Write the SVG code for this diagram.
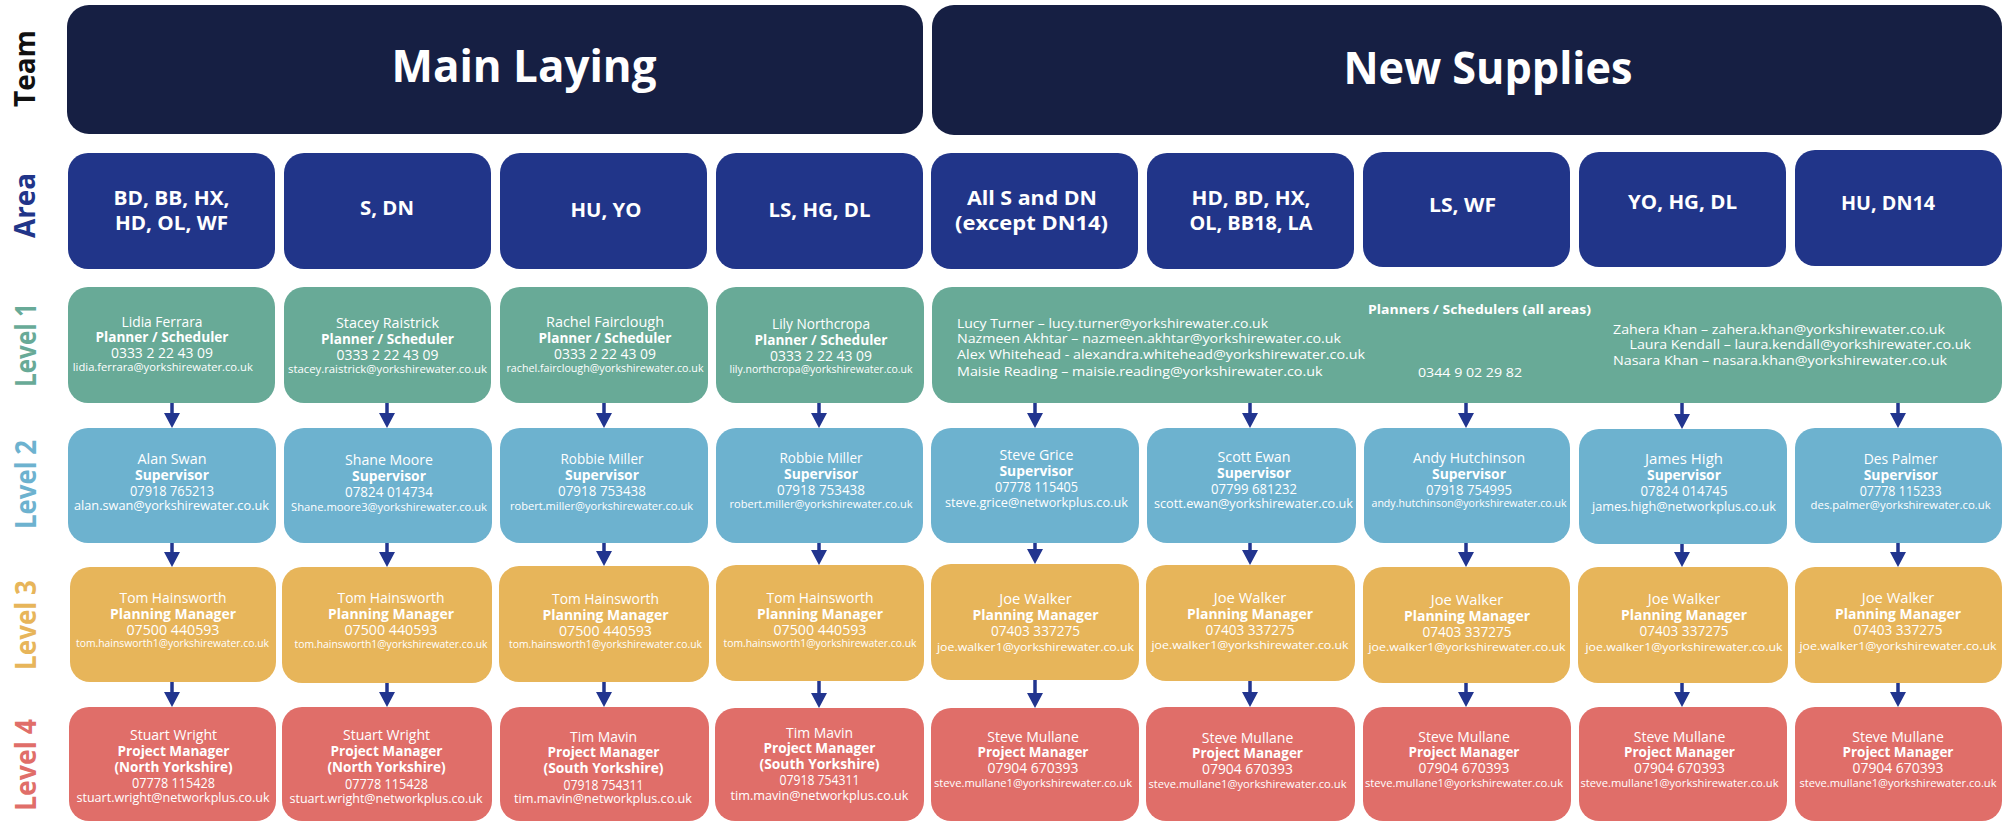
<svg xmlns="http://www.w3.org/2000/svg" width="2008" height="822" viewBox="0 0 2008 822">
<defs>
<style>
text{font-family:"Open Sans","Liberation Sans",sans-serif;fill:#fff}
.team{fill:#161f43}
.area{fill:#213589}
.l1{fill:#68aa97}
.l2{fill:#6db2cf}
.l3{fill:#e7b55a}
.l4{fill:#e06e69}
.hd{font-size:45px;font-weight:700;text-anchor:middle}
.ar{font-size:19px;font-weight:700;text-anchor:middle}
.side{font-size:29px;font-weight:700;text-anchor:middle}
.sT{fill:#111}
.sA{fill:#213589}
.s1{fill:#68aa97}
.s2{fill:#6db2cf}
.s3{fill:#e7b55a}
.s4{fill:#e06e69}
.n{font-size:14px;text-anchor:middle}
.r{font-size:14px;font-weight:700;text-anchor:middle}
.e{text-anchor:middle}
.lst{font-size:13px}
.lh{font-size:12.5px;font-weight:700;text-anchor:middle}
.conn line{stroke:#22358f;stroke-width:3.5;marker-end:url(#ah)}
</style>
<marker id="ah" markerUnits="userSpaceOnUse" markerWidth="15" markerHeight="16" viewBox="0 0 15 16" refX="5" refY="8" orient="auto"><path d="M0,0 L15,8 L0,16 z" fill="#22358f"/></marker>
</defs>
<rect width="2008" height="822" fill="#fff"/>

<!-- side labels -->
<g id="side-labels">
<text class="side sT" transform="translate(35,68.5) rotate(-90)" textLength="77" lengthAdjust="spacingAndGlyphs">Team</text>
<text class="side sA" transform="translate(35,205.5) rotate(-90)" textLength="65" lengthAdjust="spacingAndGlyphs">Area</text>
<text class="side s1" transform="translate(36,345) rotate(-90)" textLength="84" lengthAdjust="spacingAndGlyphs">Level 1</text>
<text class="side s2" transform="translate(36,484.5) rotate(-90)" textLength="89" lengthAdjust="spacingAndGlyphs">Level 2</text>
<text class="side s3" transform="translate(36,625) rotate(-90)" textLength="90" lengthAdjust="spacingAndGlyphs">Level 3</text>
<text class="side s4" transform="translate(36,765) rotate(-90)" textLength="92" lengthAdjust="spacingAndGlyphs">Level 4</text>
</g>

<!-- teams -->
<g id="team-main-laying"><rect class="team" x="67" y="5" width="856" height="129" rx="22"/><text class="hd" x="524" y="82" textLength="265" lengthAdjust="spacingAndGlyphs">Main Laying</text></g>
<g id="team-new-supplies"><rect class="team" x="932" y="5" width="1070" height="130" rx="22"/><text class="hd" x="1488" y="84" textLength="289" lengthAdjust="spacingAndGlyphs">New Supplies</text></g>

<!-- areas -->
<g id="area-1"><rect class="area" x="68" y="153" width="207" height="116" rx="20"/><text class="ar" x="171.5" y="205" textLength="116" lengthAdjust="spacingAndGlyphs">BD, BB, HX,</text><text class="ar" x="171.5" y="230" textLength="113" lengthAdjust="spacingAndGlyphs">HD, OL, WF</text></g>
<g id="area-2"><rect class="area" x="284" y="153" width="207" height="116" rx="20"/><text class="ar" x="387" y="215" textLength="54" lengthAdjust="spacingAndGlyphs">S, DN</text></g>
<g id="area-3"><rect class="area" x="500" y="153" width="207" height="116" rx="20"/><text class="ar" x="606" y="216.5" textLength="71" lengthAdjust="spacingAndGlyphs">HU, YO</text></g>
<g id="area-4"><rect class="area" x="716" y="153" width="207" height="116" rx="20"/><text class="ar" x="819.5" y="216.5" textLength="102" lengthAdjust="spacingAndGlyphs">LS, HG, DL</text></g>
<g id="area-5"><rect class="area" x="931" y="153" width="207" height="116" rx="20"/><text class="ar" x="1032" y="205" textLength="130" lengthAdjust="spacingAndGlyphs">All S and DN</text><text class="ar" x="1031.5" y="230" textLength="153" lengthAdjust="spacingAndGlyphs">(except DN14)</text></g>
<g id="area-6"><rect class="area" x="1147" y="153" width="207" height="116" rx="20"/><text class="ar" x="1251" y="205" textLength="119" lengthAdjust="spacingAndGlyphs">HD, BD, HX,</text><text class="ar" x="1251" y="230" textLength="123" lengthAdjust="spacingAndGlyphs">OL, BB18, LA</text></g>
<g id="area-7"><rect class="area" x="1363" y="152" width="207" height="115" rx="20"/><text class="ar" x="1462.5" y="211.5" textLength="67" lengthAdjust="spacingAndGlyphs">LS, WF</text></g>
<g id="area-8"><rect class="area" x="1579" y="152" width="207" height="115" rx="20"/><text class="ar" x="1682.5" y="208.5" textLength="109" lengthAdjust="spacingAndGlyphs">YO, HG, DL</text></g>
<g id="area-9"><rect class="area" x="1795" y="150" width="207" height="116" rx="20"/><text class="ar" x="1888" y="210" textLength="94" lengthAdjust="spacingAndGlyphs">HU, DN14</text></g>

<!-- level 1 -->
<g id="l1-1"><rect class="l1" x="68" y="287" width="207" height="116" rx="20"/>
<text class="n" x="162" y="326.7" textLength="81" lengthAdjust="spacingAndGlyphs">Lidia Ferrara</text>
<text class="r" x="162" y="342.3" textLength="133" lengthAdjust="spacingAndGlyphs">Planner / Scheduler</text>
<text class="n" x="162" y="358" textLength="102" lengthAdjust="spacingAndGlyphs">0333 2 22 43 09</text>
<text class="e" x="162.8" y="370.7" font-size="10" textLength="180" lengthAdjust="spacingAndGlyphs">lidia.ferrara@yorkshirewater.co.uk</text></g>
<g id="l1-2"><rect class="l1" x="284" y="287" width="207" height="116" rx="20"/>
<text class="n" x="387.5" y="328.3" textLength="103" lengthAdjust="spacingAndGlyphs">Stacey Raistrick</text>
<text class="r" x="387.5" y="344" textLength="133" lengthAdjust="spacingAndGlyphs">Planner / Scheduler</text>
<text class="n" x="387.5" y="360" textLength="102" lengthAdjust="spacingAndGlyphs">0333 2 22 43 09</text>
<text class="e" x="387.5" y="372.7" font-size="10" textLength="199" lengthAdjust="spacingAndGlyphs">stacey.raistrick@yorkshirewater.co.uk</text></g>
<g id="l1-3"><rect class="l1" x="500" y="287" width="208" height="116" rx="20"/>
<text class="n" x="605" y="327" textLength="118" lengthAdjust="spacingAndGlyphs">Rachel Fairclough</text>
<text class="r" x="605" y="343" textLength="133" lengthAdjust="spacingAndGlyphs">Planner / Scheduler</text>
<text class="n" x="605" y="359" textLength="102" lengthAdjust="spacingAndGlyphs">0333 2 22 43 09</text>
<text class="e" x="605" y="371.7" font-size="10" textLength="197" lengthAdjust="spacingAndGlyphs">rachel.fairclough@yorkshirewater.co.uk</text></g>
<g id="l1-4"><rect class="l1" x="716" y="287" width="208" height="116" rx="20"/>
<text class="n" x="821" y="329" textLength="98" lengthAdjust="spacingAndGlyphs">Lily Northcropa</text>
<text class="r" x="821" y="345" textLength="133" lengthAdjust="spacingAndGlyphs">Planner / Scheduler</text>
<text class="n" x="821" y="361" textLength="102" lengthAdjust="spacingAndGlyphs">0333 2 22 43 09</text>
<text class="e" x="821" y="373" font-size="10" textLength="183" lengthAdjust="spacingAndGlyphs">lily.northcropa@yorkshirewater.co.uk</text></g>
<g id="l1-new-supplies"><rect class="l1" x="932" y="287" width="1070" height="116" rx="20"/>
<text class="lh" x="1479.5" y="314" textLength="223" lengthAdjust="spacingAndGlyphs">Planners / Schedulers (all areas)</text>
<text class="lst" x="957" y="327.7" textLength="311" lengthAdjust="spacingAndGlyphs">Lucy Turner – lucy.turner@yorkshirewater.co.uk</text>
<text class="lst" x="957" y="343.3" textLength="384" lengthAdjust="spacingAndGlyphs">Nazmeen Akhtar – nazmeen.akhtar@yorkshirewater.co.uk</text>
<text class="lst" x="957" y="359.3" textLength="408" lengthAdjust="spacingAndGlyphs">Alex Whitehead - alexandra.whitehead@yorkshirewater.co.uk</text>
<text class="lst" x="957" y="375.7" textLength="365.5" lengthAdjust="spacingAndGlyphs">Maisie Reading – maisie.reading@yorkshirewater.co.uk</text>
<text class="lst" x="1418" y="376.7" textLength="104" lengthAdjust="spacingAndGlyphs">0344 9 02 29 82</text>
<text class="lst" x="1613" y="334" textLength="332" lengthAdjust="spacingAndGlyphs">Zahera Khan – zahera.khan@yorkshirewater.co.uk</text>
<text class="lst" x="1629.5" y="349.3" textLength="341.5" lengthAdjust="spacingAndGlyphs">Laura Kendall – laura.kendall@yorkshirewater.co.uk</text>
<text class="lst" x="1613" y="365" textLength="334" lengthAdjust="spacingAndGlyphs">Nasara Khan – nasara.khan@yorkshirewater.co.uk</text></g>

<!-- level 2 -->
<g id="l2-1"><rect class="l2" x="68" y="428" width="208" height="115" rx="20"/>
<text class="n" x="172" y="464.3" textLength="69" lengthAdjust="spacingAndGlyphs">Alan Swan</text>
<text class="r" x="172" y="480" textLength="74" lengthAdjust="spacingAndGlyphs">Supervisor</text>
<text class="n" x="172" y="495.7" textLength="84" lengthAdjust="spacingAndGlyphs">07918 765213</text>
<text class="e" x="171.5" y="510" font-size="12.3" textLength="195" lengthAdjust="spacingAndGlyphs">alan.swan@yorkshirewater.co.uk</text></g>
<g id="l2-2"><rect class="l2" x="284" y="428" width="208" height="115" rx="20"/>
<text class="n" x="389" y="465.3" textLength="88" lengthAdjust="spacingAndGlyphs">Shane Moore</text>
<text class="r" x="389" y="481" textLength="74" lengthAdjust="spacingAndGlyphs">Supervisor</text>
<text class="n" x="389" y="496.7" textLength="88" lengthAdjust="spacingAndGlyphs">07824 014734</text>
<text class="e" x="389" y="510.7" font-size="11.2" textLength="196" lengthAdjust="spacingAndGlyphs">Shane.moore3@yorkshirewater.co.uk</text></g>
<g id="l2-3"><rect class="l2" x="500" y="428" width="208" height="115" rx="20"/>
<text class="n" x="602" y="464" textLength="83" lengthAdjust="spacingAndGlyphs">Robbie Miller</text>
<text class="r" x="602" y="480" textLength="74" lengthAdjust="spacingAndGlyphs">Supervisor</text>
<text class="n" x="602" y="496" textLength="88" lengthAdjust="spacingAndGlyphs">07918 753438</text>
<text class="e" x="601.5" y="510" font-size="10.2" textLength="183" lengthAdjust="spacingAndGlyphs">robert.miller@yorkshirewater.co.uk</text></g>
<g id="l2-4"><rect class="l2" x="716" y="428" width="207" height="115" rx="20"/>
<text class="n" x="821" y="463" textLength="83" lengthAdjust="spacingAndGlyphs">Robbie Miller</text>
<text class="r" x="821" y="479" textLength="74" lengthAdjust="spacingAndGlyphs">Supervisor</text>
<text class="n" x="821" y="495" textLength="88" lengthAdjust="spacingAndGlyphs">07918 753438</text>
<text class="e" x="821" y="508" font-size="10.2" textLength="183" lengthAdjust="spacingAndGlyphs">robert.miller@yorkshirewater.co.uk</text></g>
<g id="l2-5"><rect class="l2" x="931" y="428" width="208" height="115" rx="20"/>
<text class="n" x="1036.4" y="460" textLength="74" lengthAdjust="spacingAndGlyphs">Steve Grice</text>
<text class="r" x="1036.4" y="475.7" textLength="74" lengthAdjust="spacingAndGlyphs">Supervisor</text>
<text class="n" x="1036.4" y="491.7" textLength="83" lengthAdjust="spacingAndGlyphs">07778 115405</text>
<text class="e" x="1036.4" y="506.7" font-size="11.9" textLength="183" lengthAdjust="spacingAndGlyphs">steve.grice@networkplus.co.uk</text></g>
<g id="l2-6"><rect class="l2" x="1147" y="428" width="209" height="115" rx="20"/>
<text class="n" x="1254" y="462.3" textLength="73" lengthAdjust="spacingAndGlyphs">Scott Ewan</text>
<text class="r" x="1254" y="478" textLength="74" lengthAdjust="spacingAndGlyphs">Supervisor</text>
<text class="n" x="1254" y="494" textLength="86" lengthAdjust="spacingAndGlyphs">07799 681232</text>
<text class="e" x="1253.5" y="507.7" font-size="12.1" textLength="199" lengthAdjust="spacingAndGlyphs">scott.ewan@yorkshirewater.co.uk</text></g>
<g id="l2-7"><rect class="l2" x="1364" y="428" width="206" height="115" rx="20"/>
<text class="n" x="1469" y="463" textLength="112" lengthAdjust="spacingAndGlyphs">Andy Hutchinson</text>
<text class="r" x="1469" y="479" textLength="74" lengthAdjust="spacingAndGlyphs">Supervisor</text>
<text class="n" x="1469" y="495" textLength="86" lengthAdjust="spacingAndGlyphs">07918 754995</text>
<text class="e" x="1469" y="507" font-size="10.2" textLength="195" lengthAdjust="spacingAndGlyphs">andy.hutchinson@yorkshirewater.co.uk</text></g>
<g id="l2-8"><rect class="l2" x="1579" y="429" width="208" height="115" rx="20"/>
<text class="n" x="1684" y="464.3" textLength="78" lengthAdjust="spacingAndGlyphs">James High</text>
<text class="r" x="1684" y="480" textLength="74" lengthAdjust="spacingAndGlyphs">Supervisor</text>
<text class="n" x="1684" y="496" textLength="87" lengthAdjust="spacingAndGlyphs">07824 014745</text>
<text class="e" x="1684" y="511" font-size="12.4" textLength="184" lengthAdjust="spacingAndGlyphs">james.high@networkplus.co.uk</text></g>
<g id="l2-9"><rect class="l2" x="1795" y="428" width="207" height="115" rx="20"/>
<text class="n" x="1900.7" y="464" textLength="74" lengthAdjust="spacingAndGlyphs">Des Palmer</text>
<text class="r" x="1900.7" y="480" textLength="74" lengthAdjust="spacingAndGlyphs">Supervisor</text>
<text class="n" x="1900.7" y="496" textLength="82" lengthAdjust="spacingAndGlyphs">07778 115233</text>
<text class="e" x="1900.6" y="509" font-size="11" textLength="180" lengthAdjust="spacingAndGlyphs">des.palmer@yorkshirewater.co.uk</text></g>

<!-- level 3 -->
<g id="l3-1"><rect class="l3" x="70" y="567" width="206" height="115" rx="20"/>
<text class="n" x="173" y="603.3" textLength="107" lengthAdjust="spacingAndGlyphs">Tom Hainsworth</text>
<text class="r" x="173" y="619.3" textLength="126" lengthAdjust="spacingAndGlyphs">Planning Manager</text>
<text class="n" x="173" y="635" textLength="93" lengthAdjust="spacingAndGlyphs">07500 440593</text>
<text class="e" x="172.5" y="646.7" font-size="10.1" textLength="193" lengthAdjust="spacingAndGlyphs">tom.hainsworth1@yorkshirewater.co.uk</text></g>
<g id="l3-2"><rect class="l3" x="282" y="567" width="210" height="116" rx="20"/>
<text class="n" x="391" y="603.3" textLength="107" lengthAdjust="spacingAndGlyphs">Tom Hainsworth</text>
<text class="r" x="391" y="619.3" textLength="126" lengthAdjust="spacingAndGlyphs">Planning Manager</text>
<text class="n" x="391" y="635" textLength="93" lengthAdjust="spacingAndGlyphs">07500 440593</text>
<text class="e" x="391" y="647.7" font-size="10.1" textLength="193" lengthAdjust="spacingAndGlyphs">tom.hainsworth1@yorkshirewater.co.uk</text></g>
<g id="l3-3"><rect class="l3" x="499" y="566" width="210" height="116" rx="20"/>
<text class="n" x="605.5" y="604" textLength="107" lengthAdjust="spacingAndGlyphs">Tom Hainsworth</text>
<text class="r" x="605.5" y="620" textLength="126" lengthAdjust="spacingAndGlyphs">Planning Manager</text>
<text class="n" x="605.5" y="635.7" textLength="93" lengthAdjust="spacingAndGlyphs">07500 440593</text>
<text class="e" x="605.5" y="648.3" font-size="10.1" textLength="193" lengthAdjust="spacingAndGlyphs">tom.hainsworth1@yorkshirewater.co.uk</text></g>
<g id="l3-4"><rect class="l3" x="716" y="565" width="208" height="116" rx="20"/>
<text class="n" x="820" y="603" textLength="107" lengthAdjust="spacingAndGlyphs">Tom Hainsworth</text>
<text class="r" x="820" y="619" textLength="126" lengthAdjust="spacingAndGlyphs">Planning Manager</text>
<text class="n" x="820" y="635" textLength="93" lengthAdjust="spacingAndGlyphs">07500 440593</text>
<text class="e" x="820" y="647" font-size="10.1" textLength="193" lengthAdjust="spacingAndGlyphs">tom.hainsworth1@yorkshirewater.co.uk</text></g>
<g id="l3-5"><rect class="l3" x="931" y="564" width="208" height="116" rx="20"/>
<text class="n" x="1035.5" y="604" textLength="72.5" lengthAdjust="spacingAndGlyphs">Joe Walker</text>
<text class="r" x="1035.5" y="620" textLength="126" lengthAdjust="spacingAndGlyphs">Planning Manager</text>
<text class="n" x="1035.5" y="636" textLength="89" lengthAdjust="spacingAndGlyphs">07403 337275</text>
<text class="e" x="1035.5" y="650.7" font-size="11.6" textLength="197" lengthAdjust="spacingAndGlyphs">joe.walker1@yorkshirewater.co.uk</text></g>
<g id="l3-6"><rect class="l3" x="1146" y="565" width="209" height="116" rx="20"/>
<text class="n" x="1250" y="603.3" textLength="72.5" lengthAdjust="spacingAndGlyphs">Joe Walker</text>
<text class="r" x="1250" y="619" textLength="126" lengthAdjust="spacingAndGlyphs">Planning Manager</text>
<text class="n" x="1250" y="635" textLength="89" lengthAdjust="spacingAndGlyphs">07403 337275</text>
<text class="e" x="1250" y="649" font-size="11.6" textLength="197" lengthAdjust="spacingAndGlyphs">joe.walker1@yorkshirewater.co.uk</text></g>
<g id="l3-7"><rect class="l3" x="1363" y="567" width="207" height="116" rx="20"/>
<text class="n" x="1467" y="605" textLength="72.5" lengthAdjust="spacingAndGlyphs">Joe Walker</text>
<text class="r" x="1467" y="621" textLength="126" lengthAdjust="spacingAndGlyphs">Planning Manager</text>
<text class="n" x="1467" y="637" textLength="89" lengthAdjust="spacingAndGlyphs">07403 337275</text>
<text class="e" x="1467" y="651" font-size="11.6" textLength="197" lengthAdjust="spacingAndGlyphs">joe.walker1@yorkshirewater.co.uk</text></g>
<g id="l3-8"><rect class="l3" x="1578" y="567" width="210" height="116" rx="20"/>
<text class="n" x="1684" y="604" textLength="72.5" lengthAdjust="spacingAndGlyphs">Joe Walker</text>
<text class="r" x="1684" y="620" textLength="126" lengthAdjust="spacingAndGlyphs">Planning Manager</text>
<text class="n" x="1684" y="636" textLength="89" lengthAdjust="spacingAndGlyphs">07403 337275</text>
<text class="e" x="1684" y="651" font-size="11.6" textLength="197" lengthAdjust="spacingAndGlyphs">joe.walker1@yorkshirewater.co.uk</text></g>
<g id="l3-9"><rect class="l3" x="1795" y="567" width="207" height="116" rx="20"/>
<text class="n" x="1898" y="603" textLength="72.5" lengthAdjust="spacingAndGlyphs">Joe Walker</text>
<text class="r" x="1898" y="619" textLength="126" lengthAdjust="spacingAndGlyphs">Planning Manager</text>
<text class="n" x="1898" y="635" textLength="89" lengthAdjust="spacingAndGlyphs">07403 337275</text>
<text class="e" x="1898" y="650" font-size="11.6" textLength="197" lengthAdjust="spacingAndGlyphs">joe.walker1@yorkshirewater.co.uk</text></g>

<!-- level 4 -->
<g id="l4-1"><rect class="l4" x="69" y="707" width="207" height="114" rx="20"/>
<text class="n" x="173.5" y="740" textLength="87" lengthAdjust="spacingAndGlyphs">Stuart Wright</text>
<text class="r" x="173.5" y="756" textLength="112" lengthAdjust="spacingAndGlyphs">Project Manager</text>
<text class="r" x="173.5" y="771.7" textLength="118" lengthAdjust="spacingAndGlyphs">(North Yorkshire)</text>
<text class="n" x="173.5" y="787.7" textLength="83" lengthAdjust="spacingAndGlyphs">07778 115428</text>
<text class="e" x="173" y="801.7" font-size="11.7" textLength="193" lengthAdjust="spacingAndGlyphs">stuart.wright@networkplus.co.uk</text></g>
<g id="l4-2"><rect class="l4" x="282" y="707" width="210" height="114" rx="20"/>
<text class="n" x="386.5" y="740" textLength="87" lengthAdjust="spacingAndGlyphs">Stuart Wright</text>
<text class="r" x="386.5" y="756" textLength="112" lengthAdjust="spacingAndGlyphs">Project Manager</text>
<text class="r" x="386.5" y="772" textLength="118" lengthAdjust="spacingAndGlyphs">(North Yorkshire)</text>
<text class="n" x="386.5" y="788.7" textLength="83" lengthAdjust="spacingAndGlyphs">07778 115428</text>
<text class="e" x="386" y="802.7" font-size="11.7" textLength="193" lengthAdjust="spacingAndGlyphs">stuart.wright@networkplus.co.uk</text></g>
<g id="l4-3"><rect class="l4" x="500" y="707" width="209" height="114" rx="20"/>
<text class="n" x="603.5" y="741.7" textLength="67" lengthAdjust="spacingAndGlyphs">Tim Mavin</text>
<text class="r" x="603.5" y="757.3" textLength="112" lengthAdjust="spacingAndGlyphs">Project Manager</text>
<text class="r" x="603.5" y="773.3" textLength="120" lengthAdjust="spacingAndGlyphs">(South Yorkshire)</text>
<text class="n" x="603.5" y="790" textLength="80" lengthAdjust="spacingAndGlyphs">07918 754311</text>
<text class="e" x="603" y="803.3" font-size="12.4" textLength="178" lengthAdjust="spacingAndGlyphs">tim.mavin@networkplus.co.uk</text></g>
<g id="l4-4"><rect class="l4" x="715" y="708" width="209" height="113" rx="20"/>
<text class="n" x="819.5" y="737.7" textLength="67" lengthAdjust="spacingAndGlyphs">Tim Mavin</text>
<text class="r" x="819.5" y="753" textLength="112" lengthAdjust="spacingAndGlyphs">Project Manager</text>
<text class="r" x="819.5" y="769" textLength="120" lengthAdjust="spacingAndGlyphs">(South Yorkshire)</text>
<text class="n" x="819.5" y="785" textLength="80" lengthAdjust="spacingAndGlyphs">07918 754311</text>
<text class="e" x="819.5" y="800" font-size="12.4" textLength="178" lengthAdjust="spacingAndGlyphs">tim.mavin@networkplus.co.uk</text></g>
<g id="l4-5"><rect class="l4" x="931" y="708" width="208" height="113" rx="20"/>
<text class="n" x="1033" y="741.7" textLength="91.5" lengthAdjust="spacingAndGlyphs">Steve Mullane</text>
<text class="r" x="1033" y="757.3" textLength="111" lengthAdjust="spacingAndGlyphs">Project Manager</text>
<text class="n" x="1033" y="773.3" textLength="91" lengthAdjust="spacingAndGlyphs">07904 670393</text>
<text class="e" x="1033" y="787.3" font-size="10.7" textLength="198" lengthAdjust="spacingAndGlyphs">steve.mullane1@yorkshirewater.co.uk</text></g>
<g id="l4-6"><rect class="l4" x="1146" y="707" width="209" height="114" rx="20"/>
<text class="n" x="1247.5" y="742.7" textLength="91.5" lengthAdjust="spacingAndGlyphs">Steve Mullane</text>
<text class="r" x="1247.5" y="758" textLength="111" lengthAdjust="spacingAndGlyphs">Project Manager</text>
<text class="n" x="1247.5" y="774" textLength="91" lengthAdjust="spacingAndGlyphs">07904 670393</text>
<text class="e" x="1247.5" y="788.3" font-size="10.7" textLength="198" lengthAdjust="spacingAndGlyphs">steve.mullane1@yorkshirewater.co.uk</text></g>
<g id="l4-7"><rect class="l4" x="1363" y="707" width="208" height="114" rx="20"/>
<text class="n" x="1464" y="741.7" textLength="91.5" lengthAdjust="spacingAndGlyphs">Steve Mullane</text>
<text class="r" x="1464" y="757.3" textLength="111" lengthAdjust="spacingAndGlyphs">Project Manager</text>
<text class="n" x="1464" y="773" textLength="91" lengthAdjust="spacingAndGlyphs">07904 670393</text>
<text class="e" x="1464" y="787.3" font-size="10.7" textLength="198" lengthAdjust="spacingAndGlyphs">steve.mullane1@yorkshirewater.co.uk</text></g>
<g id="l4-8"><rect class="l4" x="1579" y="707" width="208" height="114" rx="20"/>
<text class="n" x="1679.5" y="741.7" textLength="91.5" lengthAdjust="spacingAndGlyphs">Steve Mullane</text>
<text class="r" x="1679.5" y="757.3" textLength="111" lengthAdjust="spacingAndGlyphs">Project Manager</text>
<text class="n" x="1679.5" y="773" textLength="91" lengthAdjust="spacingAndGlyphs">07904 670393</text>
<text class="e" x="1679.5" y="787.3" font-size="10.7" textLength="198" lengthAdjust="spacingAndGlyphs">steve.mullane1@yorkshirewater.co.uk</text></g>
<g id="l4-9"><rect class="l4" x="1795" y="707" width="207" height="114" rx="20"/>
<text class="n" x="1898" y="741.7" textLength="91.5" lengthAdjust="spacingAndGlyphs">Steve Mullane</text>
<text class="r" x="1898" y="757.3" textLength="111" lengthAdjust="spacingAndGlyphs">Project Manager</text>
<text class="n" x="1898" y="773" textLength="91" lengthAdjust="spacingAndGlyphs">07904 670393</text>
<text class="e" x="1898" y="787.3" font-size="10.7" textLength="197" lengthAdjust="spacingAndGlyphs">steve.mullane1@yorkshirewater.co.uk</text></g>

<!-- connectors -->
<g id="connectors" class="conn">
<line x1="172" y1="403" x2="172" y2="418"/><line x1="172" y1="543" x2="172" y2="557"/><line x1="172" y1="682" x2="172" y2="697"/>
<line x1="387" y1="403" x2="387" y2="418"/><line x1="387" y1="543" x2="387" y2="557"/><line x1="387" y1="683" x2="387" y2="697"/>
<line x1="604" y1="403" x2="604" y2="418"/><line x1="604" y1="543" x2="604" y2="556"/><line x1="604" y1="682" x2="604" y2="697"/>
<line x1="819" y1="403" x2="819" y2="418"/><line x1="819" y1="543" x2="819" y2="555"/><line x1="819" y1="681" x2="819" y2="698"/>
<line x1="1035" y1="403" x2="1035" y2="418"/><line x1="1035" y1="543" x2="1035" y2="554"/><line x1="1035" y1="680" x2="1035" y2="698"/>
<line x1="1250" y1="403" x2="1250" y2="418"/><line x1="1250" y1="543" x2="1250" y2="555"/><line x1="1250" y1="681" x2="1250" y2="697"/>
<line x1="1466" y1="403" x2="1466" y2="418"/><line x1="1466" y1="543" x2="1466" y2="557"/><line x1="1466" y1="683" x2="1466" y2="697"/>
<line x1="1682" y1="403" x2="1682" y2="419"/><line x1="1682" y1="544" x2="1682" y2="557"/><line x1="1682" y1="683" x2="1682" y2="697"/>
<line x1="1898" y1="403" x2="1898" y2="418"/><line x1="1898" y1="543" x2="1898" y2="557"/><line x1="1898" y1="683" x2="1898" y2="697"/>
</g>
</svg>
